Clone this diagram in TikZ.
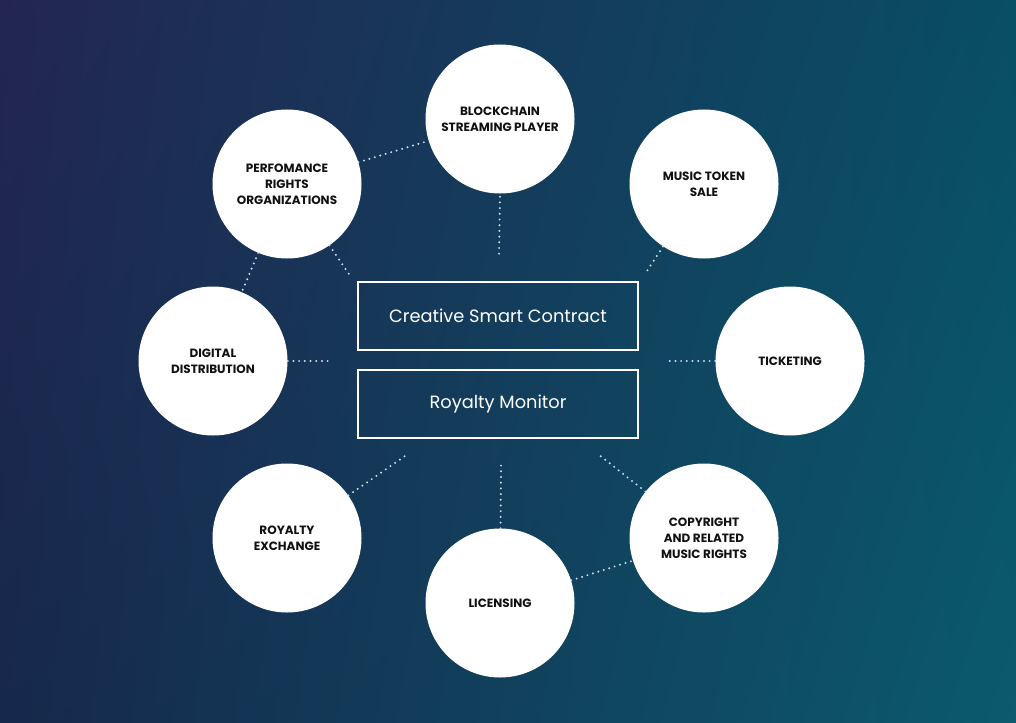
\documentclass[tikz,border=0pt]{standalone}
\usepackage{fontspec}
\usetikzlibrary{shadings}
\setmainfont{Poppins}
\definecolor{bgtl}{RGB}{35,38,82}
\definecolor{bgtr}{RGB}{8,78,100}
\definecolor{bgbl}{RGB}{22,40,75}
\definecolor{bgbr}{RGB}{11,90,110}
\definecolor{dotc}{RGB}{205,220,230}
\definecolor{txt}{RGB}{17,17,20}
\begin{document}
\begin{tikzpicture}[x=1pt,y=-1pt,
  circ/.style={circle,fill=white,minimum size=149pt,inner sep=0pt,align=center,text=txt,
    font=\fontsize{12}{16}\selectfont\bfseries},
  boxx/.style={draw=white,line width=1.6pt,minimum width=280pt,minimum height=68pt,inner sep=0pt,
    text=white,font=\fontsize{17.8}{21}\selectfont},
  dots/.style={draw=dotc,line width=2.2pt,dash pattern=on 0pt off 5.7pt,line cap=round}]
\useasboundingbox (0,0) rectangle (1016,722);
\shade[upper left=bgtl,upper right=bgtr,lower left=bgbl,lower right=bgbr] (0,0) rectangle (1016,722);

\node[boxx] (csc) at (498,316) {Creative Smart Contract};
\node[boxx] (rmo) at (498,404) {Royalty Monitor};

\node[circ] (bsp) at (500,119) {BLOCKCHAIN\\STREAMING PLAYER};
\node[circ] (pro) at (287,184) {PERFOMANCE\\RIGHTS\\ORGANIZATIONS};
\node[circ] (mts) at (704,184) {MUSIC TOKEN\\SALE};
\node[circ] (dig) at (213,361) {DIGITAL\\DISTRIBUTION};
\node[circ] (tik) at (790,361) {TICKETING};
\node[circ] (rex) at (287,538) {ROYALTY\\EXCHANGE};
\node[circ] (lic) at (500,603) {LICENSING};
\node[circ] (cop) at (704,538) {COPYRIGHT\\AND RELATED\\MUSIC RIGHTS};

\coordinate (e1) at (499,256);
\coordinate (e2) at (349,274);
\coordinate (e3) at (645,274);
\coordinate (e4) at (332,361);
\coordinate (e5) at (668,361);
\coordinate (e6) at (405,456);
\coordinate (e7) at (501,465);
\coordinate (e8) at (598,454);

\draw[dots] (pro) -- (bsp);
\draw[dots] (pro) -- (dig);
\draw[dots] (lic) -- (cop);
\draw[dots] ([yshift=-3pt]bsp.south) -- (e1);
\draw[dots] (pro) -- (e2);
\draw[dots] (mts) -- (e3);
\draw[dots] (dig) -- (e4);
\draw[dots] (tik) -- (e5);
\draw[dots] (rex) -- (e6);
\draw[dots] (lic) -- (e7);
\draw[dots] (cop) -- (e8);
\end{tikzpicture}
\end{document}
